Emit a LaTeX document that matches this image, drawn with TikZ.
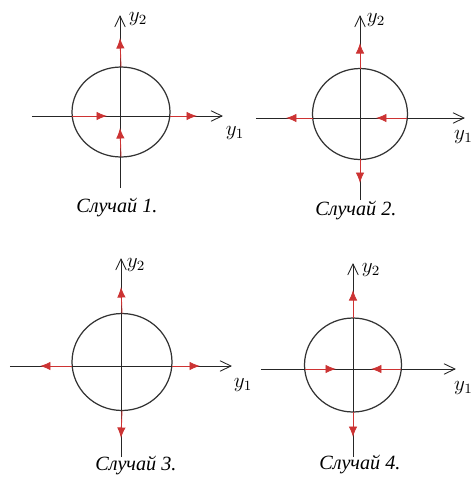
\documentclass[tikz,border=0pt]{standalone}
\usepackage{fontspec}
\setmainfont{Liberation Serif}
\usetikzlibrary{arrows.meta, shapes.geometric}
\definecolor{flowred}{RGB}{204,51,51}

\begin{document}
\begin{tikzpicture}[
  x=0.02cm, y=-0.02cm,
  axis/.style={-{Straight Barb[length=2.2mm, width=2.1mm]}, draw=black!85, line width=0.5pt},
  flow/.style={-{Latex[length=2.1mm, width=1.7mm]}, flowred, line width=0.5pt},
  ring/.style={draw=black!80, line width=0.7pt, ellipse, inner sep=0pt, outer sep=0pt},
  lbl/.style={inner sep=0pt, font=\fontsize{12}{14}\selectfont},
  casetext/.style={inner sep=0pt, font=\fontsize{11.5}{13}\selectfont\itshape}
]
\useasboundingbox (0,0) rectangle (473,478);

% case 1: in from the left, out to the right
\begin{scope}[shift={(120,116)}]
\coordinate (o1) at (0,0);
\coordinate (w1) at (-88,0);  \coordinate (e1) at (103,0);
\coordinate (s1) at (0,72);   \coordinate (n1) at (0,-101);
\coordinate (tn1) at (0,-78); \coordinate (tw1) at (-13,0);
\coordinate (te1) at (77,0);  \coordinate (ts1) at (0,12);
\node[ring, minimum width=1.96cm, minimum height=1.8cm] (c1) at (1,-4) {};
\draw[axis] (w1) -- (e1);
\draw[axis] (s1) -- (n1);
\draw[flow] (c1.north) -- (tn1);
\draw[flow] (c1.west |- o1) -- (tw1);
\draw[flow] (c1.east |- o1) -- (te1);
\draw[flow] (c1.south) -- (ts1);
\node[lbl] (y21) at (18,-97) {$y_2$};
\node[lbl] (y11) at (115,17) {$y_1$};
\node[casetext] (k1) at (-3,91) {Случай 1.};
\end{scope}

% case 2: all out, right side in
\begin{scope}[shift={(360,118)}]
\coordinate (o2) at (0,0);
\coordinate (w2) at (-104,0); \coordinate (e2) at (105,0);
\coordinate (s2) at (0,82);   \coordinate (n2) at (0,-103);
\coordinate (tn2) at (0,-75); \coordinate (tw2) at (-74,0);
\coordinate (te2) at (16,0);  \coordinate (ts2) at (0,65);
\node[ring, minimum width=1.9cm, minimum height=1.82cm] (c2) at (0,-4) {};
\draw[axis] (w2) -- (e2);
\draw[axis] (s2) -- (n2);
\draw[flow] (c2.north) -- (tn2);
\draw[flow] (c2.west |- o2) -- (tw2);
\draw[flow] (c2.east |- o2) -- (te2);
\draw[flow] (c2.south) -- (ts2);
\node[lbl] (y22) at (16,-98) {$y_2$};
\node[lbl, anchor=east] (y12) at (113,19) {$y_1$};
\node[casetext] (k2) at (-4,92) {Случай 2.};
\end{scope}

% case 3: all out
\begin{scope}[shift={(121,366)}]
\coordinate (o3) at (0,0);
\coordinate (w3) at (-111,0); \coordinate (e3) at (111,0);
\coordinate (s3) at (0,91);   \coordinate (n3) at (0,-108);
\coordinate (tn3) at (0,-79); \coordinate (tw3) at (-81,0);
\coordinate (te3) at (79,0);  \coordinate (ts3) at (0,72);
\node[ring, minimum width=2cm, minimum height=1.94cm] (c3) at (1,-4) {};
\draw[axis] (w3) -- (e3);
\draw[axis] (s3) -- (n3);
\draw[flow] (c3.north) -- (tn3);
\draw[flow] (c3.west |- o3) -- (tw3);
\draw[flow] (c3.east |- o3) -- (te3);
\draw[flow] (c3.south) -- (ts3);
\node[lbl] (y23) at (15,-101) {$y_2$};
\node[lbl] (y13) at (122,19) {$y_1$};
\node[casetext] (k3) at (15,99) {Случай 3.};
\end{scope}

% case 4: in along y1, out along y2
\begin{scope}[shift={(353,369)}]
\coordinate (o4) at (0,0);
\coordinate (w4) at (-92,0);  \coordinate (e4) at (103,0);
\coordinate (s4) at (0,88);   \coordinate (n4) at (0,-106);
\coordinate (tn4) at (0,-79); \coordinate (tw4) at (-17,0);
\coordinate (te4) at (18,0);  \coordinate (ts4) at (0,68);
\node[ring, minimum width=1.94cm, minimum height=1.88cm] (c4) at (0,-4) {};
\draw[axis] (w4) -- (e4);
\draw[axis] (s4) -- (n4);
\draw[flow] (c4.north) -- (tn4);
\draw[flow] (c4.west |- o4) -- (tw4);
\draw[flow] (c4.east |- o4) -- (te4);
\draw[flow] (c4.south) -- (ts4);
\node[lbl] (y24) at (18,-99) {$y_2$};
\node[lbl, anchor=east] (y14) at (120,19) {$y_1$};
\node[casetext] (k4) at (7,95) {Случай 4.};
\end{scope}
\end{tikzpicture}
\end{document}
